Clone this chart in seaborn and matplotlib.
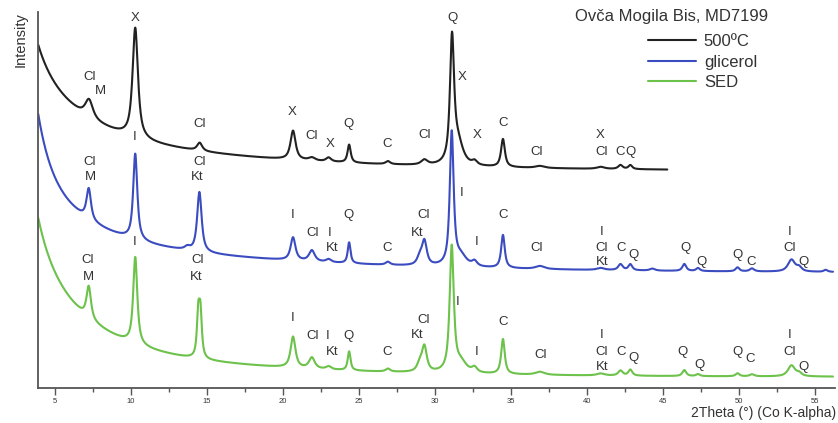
import numpy as np
import pandas as pd
import matplotlib
matplotlib.use("Agg")
import matplotlib.pyplot as plt
import seaborn as sns
from matplotlib.lines import Line2D

# Difractogrami (Co K-alpha): pikovi procijenjeni sa slike
# pozicija (2Theta), visina iznad pozadine, sirina (FWHM)
black_pos = [7.24, 10.28, 14.52, 20.66, 21.9, 23.0, 24.35, 26.9, 29.3, 31.12, 31.5, 32.6, 34.47, 36.9, 40.9, 42.2, 42.85]
black_hts = [18, 110, 8, 29, 3, 4, 18, 3, 5, 123, 22, 4, 28, 2, 2, 4, 4]
black_fw = [0.6, 0.42, 0.4, 0.4, 0.5, 0.4, 0.25, 0.35, 0.5, 0.32, 0.8, 0.4, 0.3, 0.7, 0.6, 0.35, 0.3]

blue_pos = [7.22, 10.28, 13.7, 14.5, 20.66, 21.9, 23.0, 24.35, 26.9, 29.0, 29.3, 31.1, 31.7, 32.6, 34.47, 36.9,
            40.9, 42.2, 42.85, 44.3, 46.4, 47.3, 49.9, 50.85, 53.45, 53.95, 55.7]
blue_hts = [31, 86, 3, 60, 23, 11, 3, 21, 3, 8, 24, 133, 10, 5, 33, 3, 2, 6, 6, 2, 7, 3, 4, 3, 12, 4, 2]
blue_fw = [0.35, 0.32, 0.4, 0.35, 0.38, 0.45, 0.4, 0.22, 0.35, 0.4, 0.38, 0.3, 0.9, 0.4, 0.28, 0.7,
           0.6, 0.35, 0.3, 0.4, 0.3, 0.3, 0.3, 0.35, 0.55, 0.4, 0.3]

green_pos = [7.22, 10.28, 14.43, 14.57, 20.66, 21.9, 23.0, 24.35, 26.9, 29.0, 29.3, 31.1, 31.7, 32.6, 34.47, 36.9,
             40.9, 42.2, 42.85, 46.4, 47.3, 49.9, 50.85, 53.45, 53.95]
green_hts = [32, 87, 42, 42, 31, 11, 3, 19, 3, 8, 25, 125, 10, 5, 35, 3, 2, 5, 6, 6, 2, 3, 2, 11, 3]
green_fw = [0.35, 0.32, 0.22, 0.22, 0.38, 0.45, 0.4, 0.22, 0.35, 0.4, 0.38, 0.32, 0.9, 0.4, 0.28, 0.7,
            0.6, 0.35, 0.3, 0.3, 0.3, 0.3, 0.35, 0.55, 0.4]

# pozadina: [nivo, a1, t1, a2, t2, a3, t3]
black_bg = [217, 44, 12, 58, 3.0, 19, 0.8]
blue_bg = [115, 40, 14, 62, 3.0, 48, 0.8]
green_bg = [11, 40, 11, 84, 3.0, 28, 0.8]

black_range = [3.9, 45.3]
blue_range = [3.9, 56.2]
green_range = [3.9, 56.2]

series = ["500ºC", "glicerol", "SED"]
colors = {"500ºC": "#222222", "glicerol": "#3b4cc0", "SED": "#6cc24a"}

# oznake minerala (tekst, 2Theta, intenzitet)
black_labels = [("X", 10.26, 370), ("Cl", 7.30, 311), ("M", 7.96, 297), ("Cl", 14.54, 264),
                ("X", 20.59, 276), ("Cl", 21.91, 252), ("X", 23.09, 244), ("Q", 24.34, 264),
                ("C", 26.84, 244), ("Cl", 29.34, 253), ("Q", 31.18, 370), ("X", 31.78, 311),
                ("X", 32.76, 253), ("C", 34.47, 265), ("Cl", 36.71, 236), ("X", 40.86, 253),
                ("Cl", 40.99, 236), ("C", 42.17, 236), ("Q", 42.89, 236)]
blue_labels = [("I", 10.26, 251), ("Cl", 7.30, 226), ("M", 7.30, 211), ("Cl", 14.54, 226),
               ("Kt", 14.34, 211), ("I", 20.66, 173), ("Cl", 21.97, 155), ("I", 23.09, 155),
               ("Kt", 23.22, 140), ("Q", 24.34, 173), ("C", 26.84, 140), ("Cl", 29.28, 173),
               ("Kt", 28.82, 155), ("I", 31.78, 195), ("I", 32.76, 146), ("C", 34.47, 173),
               ("Cl", 36.71, 140), ("I", 40.99, 156), ("Cl", 40.99, 140), ("Kt", 40.99, 126),
               ("C", 42.24, 140), ("Q", 43.03, 133), ("Q", 46.45, 140), ("Q", 47.50, 126),
               ("Q", 49.93, 133), ("C", 50.79, 126), ("I", 53.36, 156), ("Cl", 53.36, 140),
               ("Q", 54.21, 126)]
green_labels = [("I", 10.26, 146), ("Cl", 7.17, 128), ("M", 7.17, 111), ("Cl", 14.41, 128),
                ("Kt", 14.28, 111), ("I", 20.66, 70), ("Cl", 21.97, 52), ("I", 22.96, 52),
                ("Kt", 23.22, 36), ("Q", 24.34, 52), ("C", 26.84, 36), ("Cl", 29.28, 68),
                ("Kt", 28.82, 53), ("I", 31.51, 86), ("I", 32.76, 36), ("C", 34.47, 66),
                ("Cl", 36.97, 33), ("I", 40.99, 53), ("Cl", 40.99, 36), ("Kt", 40.99, 21),
                ("C", 42.24, 36), ("Q", 43.03, 30), ("Q", 46.25, 36), ("Q", 47.37, 23),
                ("Q", 49.93, 36), ("C", 50.72, 29), ("I", 53.36, 53), ("Cl", 53.36, 36),
                ("Q", 54.21, 21)]


def pattern(rng, bg, pos, hts, fw):
    x = np.arange(rng[0], rng[1], 0.02)
    y = (bg[0] + bg[1] * np.exp(-(x - 4) / bg[2]) + bg[3] * np.exp(-(x - 4) / bg[4])
         + bg[5] * np.exp(-(x - 4) / bg[6]))
    for p, h, w in zip(pos, hts, fw):
        lor = 1 / (1 + ((x - p) / (w / 2)) ** 2)
        gau = np.exp(-np.log(2) * ((x - p) / (w / 2)) ** 2)
        y = y + h * (0.85 * lor + 0.15 * gau)
    return x, y


frames = []
for name, rng, bg, pos, hts, fw in [
    ("500ºC", black_range, black_bg, black_pos, black_hts, black_fw),
    ("glicerol", blue_range, blue_bg, blue_pos, blue_hts, blue_fw),
    ("SED", green_range, green_bg, green_pos, green_hts, green_fw),
]:
    x, y = pattern(rng, bg, pos, hts, fw)
    frames.append(pd.DataFrame({"2Theta": x, "Intensity": y, "uzorak": name}))
df = pd.concat(frames, ignore_index=True)

sns.set_theme(style="ticks")
plt.rcParams["font.family"] = ["Liberation Sans", "DejaVu Sans"]
txt = "#333333"

fig = plt.figure(figsize=(8.38, 4.23), dpi=100)
ax = fig.add_axes([37.5 / 838, 35 / 423, 797.3 / 838, 376 / 423])

sns.lineplot(data=df, x="2Theta", y="Intensity", hue="uzorak", hue_order=series[::-1],
             palette=colors, linewidth=1.5, legend=False, ax=ax, sort=False, estimator=None)

for labels in [black_labels, blue_labels, green_labels]:
    for t, lx, ly in labels:
        ax.text(lx, ly, t, ha="center", va="center", fontsize=9.5, color=txt)

ax.set_xlim(3.85, 56.3)
ax.set_ylim(0, 376)
ax.set_xticks(range(5, 60, 5))
ax.set_xticks(np.arange(7.5, 56, 5), minor=True)
ax.set_yticks([])
ax.tick_params(axis="x", which="major", length=5, width=1, colors="#555555", labelsize=5.5,
               labelcolor=txt, pad=2)
ax.tick_params(axis="x", which="minor", length=3, width=1, colors="#555555")
sns.despine(ax=ax)
for s in ["left", "bottom"]:
    ax.spines[s].set_color("#555555")
    ax.spines[s].set_linewidth(1.3)

ax.set_xlabel("2Theta (°) (Co K-alpha)", fontsize=10, color=txt, loc="right")
ax.xaxis.set_label_coords(1.0015, -0.048)
ax.set_ylabel("Intensity", fontsize=10.5, color=txt)
ax.yaxis.set_label_coords(-0.013, 0.926)

fig.text(575 / 838, 1 - 16 / 423, "Ovča Mogila Bis, MD7199", fontsize=12, color=txt,
         ha="left", va="center")
handles = [Line2D([], [], color=colors[s], linewidth=1.5) for s in series]
ax.legend(handles, series, loc="upper left", bbox_to_anchor=(648 / 838, 1 - 34 / 423),
          bbox_transform=fig.transFigure, frameon=False, fontsize=12, borderpad=0,
          borderaxespad=0, handlelength=2.9, handletextpad=0.45, labelspacing=0.34,
          labelcolor=txt)

fig.savefig("out.png", dpi=100)
